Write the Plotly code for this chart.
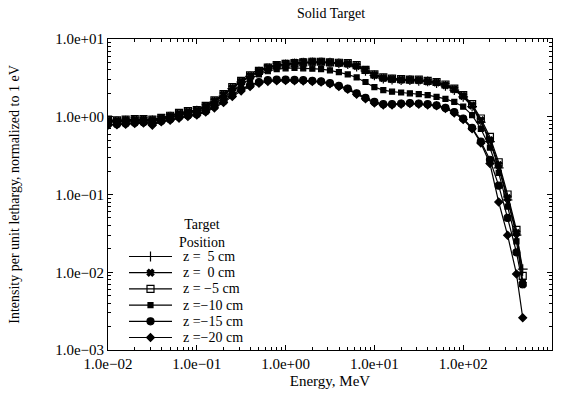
import plotly.graph_objects as go

energy = [0.0100, 0.0126, 0.0158, 0.0200, 0.0251, 0.0316, 0.0398, 0.0501, 0.0631, 0.0794,
          0.100, 0.126, 0.158, 0.200, 0.251, 0.316, 0.398, 0.501, 0.631, 0.794,
          1.00, 1.26, 1.58, 2.00, 2.51, 3.16, 3.98, 5.01, 6.31, 7.94,
          10.0, 12.6, 15.8, 20.0, 25.1, 31.6, 39.8, 50.1, 63.1, 79.4,
          100.0, 126.0, 158.0, 200.0, 251.0, 316.0, 398.0, 468.0]

z_p5 = [0.88, 0.87, 0.89, 0.90, 0.91, 0.90, 0.94, 1.00, 1.08, 1.15, 1.20, 1.33, 1.55, 1.85, 2.3, 2.8,
        3.3, 3.8, 4.2, 4.5, 4.7, 4.85, 4.95, 5.0, 5.0, 4.95, 4.85, 4.75, 4.4, 3.9, 3.4, 3.1, 3.0,
        2.95, 2.95, 2.9, 2.85, 2.7, 2.5, 2.2, 1.8, 1.35, 0.85, 0.48, 0.22, 0.085, 0.030, 0.011]
z_0 = [0.90, 0.89, 0.91, 0.92, 0.92, 0.91, 0.96, 1.02, 1.10, 1.16, 1.21, 1.36, 1.60, 1.92, 2.35, 2.85,
       3.35, 3.85, 4.3, 4.6, 4.8, 4.95, 5.05, 5.1, 5.1, 5.0, 4.9, 4.8, 4.5, 4.0, 3.45, 3.15, 3.05,
       3.0, 3.0, 2.95, 2.85, 2.75, 2.55, 2.25, 1.85, 1.4, 0.90, 0.50, 0.24, 0.090, 0.032, 0.007]
z_m5 = [0.92, 0.90, 0.92, 0.93, 0.93, 0.92, 0.97, 1.03, 1.12, 1.18, 1.22, 1.38, 1.62, 1.95, 2.4, 2.9,
        3.4, 3.9, 4.3, 4.6, 4.8, 4.9, 5.0, 5.1, 5.1, 5.0, 4.95, 4.9, 4.6, 4.0, 3.5, 3.2, 3.1,
        3.05, 3.0, 3.0, 2.9, 2.8, 2.6, 2.3, 1.9, 1.45, 0.95, 0.55, 0.26, 0.10, 0.035, 0.009]
z_m10 = [0.85, 0.85, 0.87, 0.88, 0.89, 0.88, 0.93, 0.98, 1.05, 1.10, 1.15, 1.28, 1.48, 1.75, 2.15, 2.6,
         3.05, 3.5, 3.85, 4.1, 4.2, 4.25, 4.2, 4.15, 4.1, 3.95, 3.75, 3.5, 3.2, 2.8, 2.4, 2.2, 2.1,
         2.05, 2.0, 1.95, 1.9, 1.8, 1.7, 1.55, 1.35, 1.05, 0.70, 0.40, 0.19, 0.070, 0.025, 0.0075]
z_m15 = [0.80, 0.80, 0.82, 0.84, 0.85, 0.82, 0.88, 0.93, 0.99, 1.04, 1.08, 1.18, 1.35, 1.58, 1.9, 2.25,
         2.55, 2.8, 2.95, 3.0, 3.0, 2.98, 2.95, 2.9, 2.85, 2.7, 2.5, 2.3, 2.0, 1.75, 1.55, 1.45, 1.45,
         1.48, 1.5, 1.48, 1.45, 1.4, 1.3, 1.15, 0.95, 0.72, 0.48, 0.28, 0.13, 0.050, 0.018, 0.007]
z_m20 = [0.78, 0.79, 0.80, 0.82, 0.83, 0.78, 0.86, 0.90, 0.96, 1.01, 1.05, 1.15, 1.30, 1.52, 1.82, 2.15,
         2.45, 2.7, 2.85, 2.9, 2.92, 2.9, 2.88, 2.85, 2.8, 2.65, 2.45, 2.25, 1.95, 1.7, 1.5, 1.42, 1.42,
         1.45, 1.48, 1.45, 1.42, 1.38, 1.28, 1.12, 0.92, 0.70, 0.46, 0.25, 0.08, 0.030, 0.0095, 0.0026]

series_names = ["z =  5 cm", "z =  0 cm", "z = \u22125 cm", "z =\u221210 cm", "z =\u221215 cm", "z =\u221220 cm"]
series_vals = [z_p5, z_0, z_m5, z_m10, z_m15, z_m20]
symbols = ["cross-thin", "x", "square-open", "square", "circle", "diamond"]
sizes = [7, 6, 7, 5, 7, 6]

x_tickvals = [0.01, 0.1, 1, 10, 100, 1000]
x_ticktext = ["1.0e\u221202", "1.0e\u221201", "1.0e+00", "1.0e+01", "1.0e+02", "1.0e+03"]
y_tickvals = [0.001, 0.01, 0.1, 1, 10]
y_ticktext = ["1.0e\u221203", "1.0e\u221202", "1.0e\u221201", "1.0e+00", "1.0e+01"]

legend_title = "Target<br>Position"

FONT = "Liberation Serif"
W, H = 575, 404
ML, MR, MT, MB = 108, 23, 39, 54
PW, PH = W - ML - MR, H - MT - MB


def px_x(p):
    return (p - ML) / PW


def px_y(p):
    return (H - MB - p) / PH


fig = go.Figure()
for name, vals, sym, sz in zip(series_names, series_vals, symbols, sizes):
    fig.add_trace(go.Scatter(
        x=energy, y=vals, name=name, mode="lines+markers",
        line=dict(color="black", width=1.2),
        marker=dict(symbol=sym, size=sz, color="black",
                    line=dict(color="black", width=1.2)),
        showlegend=False,
    ))

# hand-made legend (keys drawn on an invisible overlay axis in plot-fraction units)
row0, row_step = 256.5, 16.2
for i, (name, sym, sz) in enumerate(zip(series_names, symbols, sizes)):
    yy = px_y(row0 + i * row_step)
    fig.add_trace(go.Scatter(
        x=[px_x(129), px_x(172)], y=[yy, yy], mode="lines",
        line=dict(color="black", width=1.2), xaxis="x2", yaxis="y2",
        showlegend=False, hoverinfo="skip",
    ))
    fig.add_trace(go.Scatter(
        x=[px_x(150.5)], y=[yy], mode="markers",
        marker=dict(symbol=sym, size=sz, color="black", line=dict(color="black", width=1.2)),
        xaxis="x2", yaxis="y2", showlegend=False, hoverinfo="skip",
    ))
    fig.add_annotation(
        x=px_x(181), y=yy, xref="paper", yref="paper", text=name,
        xanchor="left", yanchor="middle", showarrow=False,
        font=dict(family=FONT, size=14, color="black"),
    )
fig.add_annotation(
    x=px_x(202), y=px_y(233), xref="paper", yref="paper", text=legend_title,
    xanchor="center", yanchor="middle", showarrow=False, align="center",
    font=dict(family=FONT, size=14, color="black"),
)

minor_x = [m * 10 ** e for e in range(-2, 3) for m in range(2, 10)]
minor_y = [m * 10 ** e for e in range(-3, 1) for m in range(2, 10)]

fig.update_layout(
    width=W, height=H,
    margin=dict(l=ML, r=MR, t=MT, b=MB),
    paper_bgcolor="white", plot_bgcolor="white",
    font=dict(family=FONT, size=14, color="black"),
    title=dict(text="Solid Target", x=331 / W, xanchor="center",
               y=1 - 13 / H, yanchor="middle",
               font=dict(family=FONT, size=14)),
    showlegend=False,
    xaxis=dict(
        type="log", range=[-2, 3],
        tickvals=x_tickvals, ticktext=x_ticktext,
        ticks="inside", ticklen=5, tickwidth=1, tickcolor="black",
        minor=dict(tickvals=minor_x, ticks="inside", ticklen=3, tickcolor="black", showgrid=False),
        showline=True, linecolor="black", linewidth=1, mirror="allticks",
        showgrid=False, zeroline=False,
        title=dict(text="Energy, MeV", font=dict(family=FONT, size=15), standoff=4),
        tickfont=dict(family=FONT, size=15),
    ),
    yaxis=dict(
        type="log", range=[-3, 1],
        tickvals=y_tickvals, ticktext=y_ticktext,
        ticks="inside", ticklen=5, tickwidth=1, tickcolor="black",
        minor=dict(tickvals=minor_y, ticks="inside", ticklen=3, tickcolor="black", showgrid=False),
        showline=True, linecolor="black", linewidth=1, mirror="allticks",
        showgrid=False, zeroline=False,
        title=dict(text="Intensity per unit lethargy, normalized to 1 eV", font=dict(family=FONT, size=14), standoff=32),
        tickfont=dict(family=FONT, size=15),
    ),
    xaxis2=dict(overlaying="x", anchor="y2", range=[0, 1], visible=False, fixedrange=True),
    yaxis2=dict(overlaying="y", anchor="x2", range=[0, 1], visible=False, fixedrange=True),
)

fig.write_html("out.html")
